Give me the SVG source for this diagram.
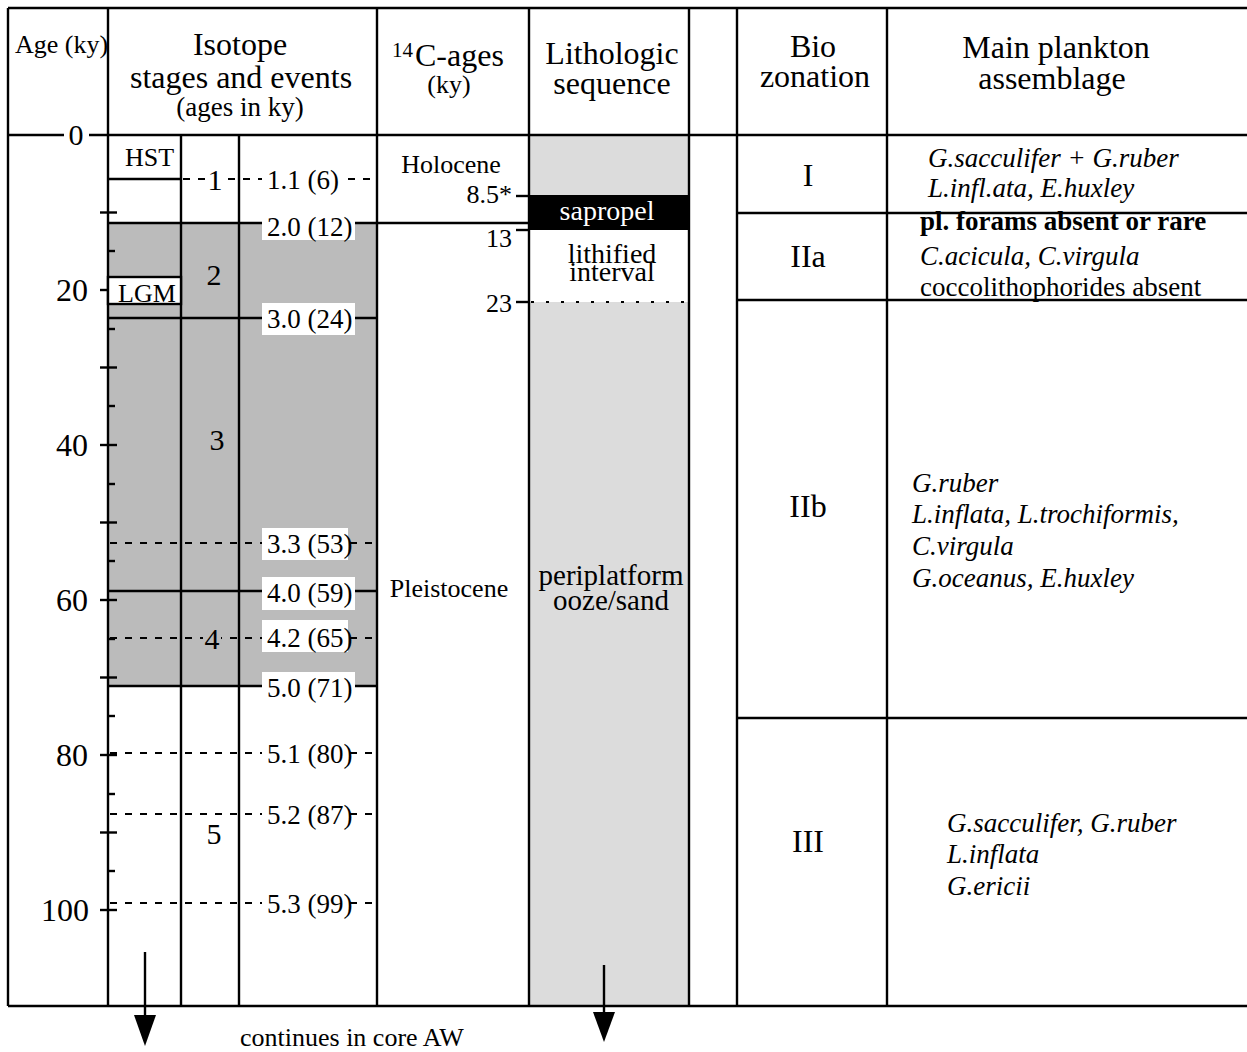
<svg xmlns="http://www.w3.org/2000/svg" width="1247" height="1052" viewBox="0 0 1247 1052">
<defs>
<style>
.ln{stroke:#000;stroke-width:2.4;fill:none}
.tk{stroke:#000;stroke-width:2.4}
.dl{stroke:#000;stroke-width:2.2;stroke-dasharray:7 8;fill:none}
.dot{stroke:#000;stroke-width:2.2;stroke-dasharray:3 12;fill:none}
text{font-family:"Liberation Serif","Times New Roman",serif;fill:#000}
.h{font-size:32px;text-anchor:middle}
.hs{font-size:27px;text-anchor:middle}
.ax{font-size:32px;text-anchor:end}
.ev{font-size:27px}
.st{font-size:30px;text-anchor:middle}
.sm{font-size:26px}
.pl{font-size:27px}
.it{font-style:italic}
.b{font-weight:bold}
.wb{fill:#fff}
.bz{font-size:32px;text-anchor:middle}
</style>
</defs>
<rect width="1247" height="1052" fill="#fff"/>

<g id="fills">
<rect x="108" y="223" width="269" height="463" fill="#bbbbbb"/>
<rect x="529" y="135" width="160" height="871" fill="#dcdcdc"/>
<rect x="529" y="195" width="160" height="35" fill="#000"/>
<rect x="529" y="230" width="160" height="72" fill="#fff"/>
</g>

<g id="grid">
<line class="ln" x1="8" y1="8" x2="1247" y2="8"/>
<line class="ln" x1="8" y1="135" x2="64" y2="135"/>
<line class="ln" x1="89" y1="135" x2="1247" y2="135"/>
<line class="ln" x1="8" y1="1006" x2="1247" y2="1006"/>
<line class="ln" x1="8" y1="8" x2="8" y2="1006"/>
<line class="ln" x1="108" y1="8" x2="108" y2="1006"/>
<line class="ln" x1="377" y1="8" x2="377" y2="1006"/>
<line class="ln" x1="529" y1="8" x2="529" y2="1006"/>
<line class="ln" x1="689" y1="8" x2="689" y2="1006"/>
<line class="ln" x1="737" y1="8" x2="737" y2="1006"/>
<line class="ln" x1="887" y1="8" x2="887" y2="1006"/>
<line class="ln" x1="181" y1="135" x2="181" y2="1006"/>
<line class="ln" x1="239" y1="135" x2="239" y2="1006"/>
<line class="ln" x1="737" y1="213" x2="1247" y2="213"/>
<line class="ln" x1="737" y1="300" x2="1247" y2="300"/>
<line class="ln" x1="737" y1="718" x2="1247" y2="718"/>
</g>

<g id="headers">
<text class="sm" x="15" y="53">Age (ky)</text>
<text class="h" x="240" y="55">Isotope</text>
<text class="h" x="241" y="88">stages and events</text>
<text class="hs" x="240" y="116">(ages in ky)</text>
<text x="392" y="57" style="font-size:21px">14</text>
<text x="415" y="66" style="font-size:32px">C-ages</text>
<text class="sm" x="449" y="93" text-anchor="middle">(ky)</text>
<text class="h" x="612" y="64">Lithologic</text>
<text class="h" x="612" y="94">sequence</text>
<text class="h" x="813" y="57">Bio</text>
<text class="h" x="815" y="87">zonation</text>
<text class="h" x="1056" y="58">Main plankton</text>
<text class="h" x="1052" y="89">assemblage</text>
</g>

<g id="age-axis">
<text class="st" x="76" y="145">0</text>
<g class="tk">
<line x1="100" y1="212.5" x2="117" y2="212.5"/>
<line x1="108" y1="251" x2="115" y2="251"/>
<line x1="100" y1="290" x2="117" y2="290"/>
<line x1="108" y1="329" x2="115" y2="329"/>
<line x1="100" y1="367.5" x2="117" y2="367.5"/>
<line x1="108" y1="406" x2="115" y2="406"/>
<line x1="100" y1="445" x2="117" y2="445"/>
<line x1="108" y1="484" x2="115" y2="484"/>
<line x1="100" y1="522.5" x2="117" y2="522.5"/>
<line x1="108" y1="561" x2="115" y2="561"/>
<line x1="100" y1="600" x2="117" y2="600"/>
<line x1="108" y1="639" x2="115" y2="639"/>
<line x1="100" y1="677.5" x2="117" y2="677.5"/>
<line x1="108" y1="716" x2="115" y2="716"/>
<line x1="100" y1="755" x2="117" y2="755"/>
<line x1="108" y1="794" x2="115" y2="794"/>
<line x1="100" y1="832.5" x2="117" y2="832.5"/>
<line x1="108" y1="871" x2="115" y2="871"/>
<line x1="100" y1="910" x2="117" y2="910"/>
</g>
<text class="ax" x="88" y="301">20</text>
<text class="ax" x="88" y="456">40</text>
<text class="ax" x="88" y="611">60</text>
<text class="ax" x="88" y="766">80</text>
<text class="ax" x="89" y="921">100</text>
</g>

<g id="isotope-events">
<g id="hst">
<line class="ln" x1="108" y1="179" x2="181" y2="179"/>
<text class="sm" x="125" y="166">HST</text>
</g>
<g id="lgm">
<rect x="108" y="277" width="73" height="27" fill="#fff" stroke="#000" stroke-width="2.4"/>
<text class="sm" x="118" y="302">LGM</text>
</g>
<g id="ev-1-1">
<line class="dl" x1="183" y1="179" x2="377" y2="179"/>
<rect class="wb" x="206" y="166" width="17" height="26"/>
<rect class="wb" x="262" y="164" width="80" height="30"/>
<text class="ev" x="267" y="189">1.1 (6)</text>
</g>
<g id="ev-2-0">
<line class="ln" x1="108" y1="223" x2="529" y2="223"/>
<rect class="wb" x="262" y="208" width="93" height="32"/>
<text class="ev" x="267" y="236">2.0 (12)</text>
</g>
<g id="ev-3-0">
<line class="ln" x1="108" y1="318" x2="377" y2="318"/>
<rect class="wb" x="262" y="303" width="93" height="32"/>
<text class="ev" x="267" y="328">3.0 (24)</text>
</g>
<g id="ev-3-3">
<line class="dl" x1="110" y1="543" x2="377" y2="543"/>
<rect class="wb" x="262" y="528" width="86" height="32"/>
<text class="ev" x="267" y="553">3.3 (53)</text>
</g>
<g id="ev-4-0">
<line class="ln" x1="108" y1="591" x2="377" y2="591"/>
<rect class="wb" x="262" y="577" width="93" height="33"/>
<text class="ev" x="267" y="602">4.0 (59)</text>
</g>
<g id="ev-4-2">
<line class="dl" x1="110" y1="638" x2="377" y2="638"/>
<rect x="203" y="626" width="18" height="26" fill="#bbbbbb"/>
<rect class="wb" x="262" y="620" width="86" height="32"/>
<text class="ev" x="267" y="647">4.2 (65)</text>
</g>
<g id="ev-5-0">
<line class="ln" x1="108" y1="686" x2="377" y2="686"/>
<rect class="wb" x="262" y="672" width="93" height="31"/>
<text class="ev" x="267" y="697">5.0 (71)</text>
</g>
<g id="ev-5-1">
<line class="dl" x1="110" y1="753" x2="377" y2="753"/>
<rect class="wb" x="262" y="738" width="86" height="30"/>
<text class="ev" x="267" y="763">5.1 (80)</text>
</g>
<g id="ev-5-2">
<line class="dl" x1="110" y1="814" x2="377" y2="814"/>
<rect class="wb" x="262" y="799" width="86" height="30"/>
<text class="ev" x="267" y="824">5.2 (87)</text>
</g>
<g id="ev-5-3">
<line class="dl" x1="110" y1="903" x2="377" y2="903"/>
<rect class="wb" x="262" y="888" width="86" height="30"/>
<text class="ev" x="267" y="913">5.3 (99)</text>
</g>
<g id="stages">
<text class="st" x="215" y="190">1</text>
<text class="st" x="214" y="285">2</text>
<text class="st" x="217" y="450">3</text>
<text class="st" x="212" y="649">4</text>
<text class="st" x="214" y="844">5</text>
</g>
</g>

<g id="c14">
<text class="sm" x="451" y="173" text-anchor="middle">Holocene</text>
<text class="sm" x="512" y="203" text-anchor="end">8.5*</text>
<line class="tk" x1="516" y1="196" x2="529" y2="196"/>
<text class="sm" x="512" y="247" text-anchor="end">13</text>
<line class="tk" x1="516" y1="230" x2="529" y2="230"/>
<text class="sm" x="512" y="312" text-anchor="end">23</text>
<line class="tk" x1="516" y1="302" x2="529" y2="302"/>
<text class="sm" x="449" y="597" text-anchor="middle">Pleistocene</text>
</g>

<g id="lithology">
<text x="607" y="220" text-anchor="middle" style="font-size:28px;fill:#fff">sapropel</text>
<text x="612" y="263" text-anchor="middle" style="font-size:28px">lithified</text>
<text x="612" y="281" text-anchor="middle" style="font-size:28px">interval</text>
<line class="dot" x1="531" y1="302" x2="689" y2="302"/>
<text x="611" y="585" text-anchor="middle" style="font-size:29px">periplatform</text>
<text x="611" y="610" text-anchor="middle" style="font-size:29px">ooze/sand</text>
</g>

<g id="zone-I">
<text class="bz" x="808" y="186">I</text>
<text class="pl it" x="928" y="167">G.sacculifer + G.ruber</text>
<text class="pl it" x="928" y="197">L.infl.ata, E.huxley</text>
</g>
<g id="zone-IIa">
<text class="bz" x="808" y="267">IIa</text>
<text class="pl b" x="920" y="230">pl. forams absent or rare</text>
<text class="pl it" x="920" y="265">C.acicula, C.virgula</text>
<text class="pl" x="920" y="296">coccolithophorides absent</text>
</g>
<g id="zone-IIb">
<text class="bz" x="808" y="517">IIb</text>
<text class="pl it" x="912" y="492">G.ruber</text>
<text class="pl it" x="912" y="523">L.inflata, L.trochiformis,</text>
<text class="pl it" x="912" y="555">C.virgula</text>
<text class="pl it" x="912" y="587">G.oceanus, E.huxley</text>
</g>
<g id="zone-III">
<text class="bz" x="808" y="852">III</text>
<text class="pl it" x="947" y="832">G.sacculifer, G.ruber</text>
<text class="pl it" x="947" y="863">L.inflata</text>
<text class="pl it" x="947" y="895">G.ericii</text>
</g>

<g id="connectors">
<line class="tk" x1="145" y1="952" x2="145" y2="1018"/>
<polygon points="134,1015 156,1015 145,1046" fill="#000"/>
<line class="tk" x1="604" y1="965" x2="604" y2="1014"/>
<polygon points="593,1012 615,1012 604,1042" fill="#000"/>
</g>
<text x="240" y="1046" style="font-size:26px">continues in core AW</text>
</svg>
